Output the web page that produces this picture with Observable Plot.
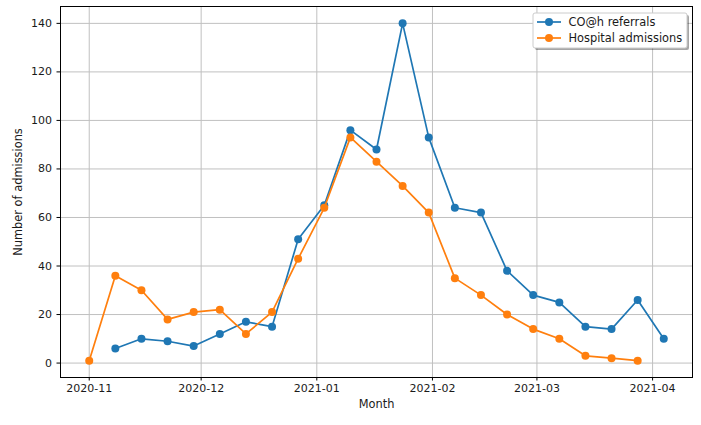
<!DOCTYPE html>
<html>
<head>
<meta charset="utf-8">
<script src="https://cdn.jsdelivr.net/npm/d3@7"></script>
<script src="https://cdn.jsdelivr.net/npm/@observablehq/plot@0.6"></script>
<style>
  html, body { margin: 0; padding: 0; background: white; }
  #chart { width: 701px; height: 425px; }
</style>
</head>
<body>
<div id="chart"></div>
<script>
const seriesNames = ["CO@h referrals", "Hospital admissions"];
const seriesColors = ["#1f77b4", "#ff7f0e"];

const referralDates = ["2020-11-08","2020-11-15","2020-11-22","2020-11-29","2020-12-06","2020-12-13","2020-12-20","2020-12-27",
  "2021-01-03","2021-01-10","2021-01-17","2021-01-24","2021-01-31","2021-02-07","2021-02-14","2021-02-21","2021-02-28",
  "2021-03-07","2021-03-14","2021-03-21","2021-03-28","2021-04-04"];
const referrals = [6,10,9,7,12,17,15,51,65,96,88,140,93,64,62,38,28,25,15,14,26,10];

const admissionDates = ["2020-11-01","2020-11-08","2020-11-15","2020-11-22","2020-11-29","2020-12-06","2020-12-13","2020-12-20","2020-12-27",
  "2021-01-03","2021-01-10","2021-01-17","2021-01-24","2021-01-31","2021-02-07","2021-02-14","2021-02-21","2021-02-28",
  "2021-03-07","2021-03-14","2021-03-21","2021-03-28"];
const admissions = [1,36,30,18,21,22,12,21,43,64,93,83,73,62,35,28,20,14,10,3,2,1];

const monthTicks = ["2020-11-01","2020-12-01","2021-01-01","2021-02-01","2021-03-01","2021-04-01"];
const yTicks = [0,20,40,60,80,100,120,140];

const xLabel = "Month";
const yLabel = "Number of admissions";

const refData = referralDates.map((d, i) => ({date: new Date(d), value: referrals[i]}));
const admData = admissionDates.map((d, i) => ({date: new Date(d), value: admissions[i]}));
const monthDates = monthTicks.map(d => new Date(d));

// matplotlib-style 5% margins
const allDates = refData.concat(admData).map(d => +d.date);
const allVals = referrals.concat(admissions);
const tMin = d3.min(allDates), tMax = d3.max(allDates);
const tPad = (tMax - tMin) * 0.05;
const vMin = d3.min(allVals), vMax = d3.max(allVals);
const vPad = (vMax - vMin) * 0.05;

const textColor = "#1a1a1a";
const gridColor = "#c0c0c0";

const chart = Plot.plot({
  width: 701,
  height: 425,
  marginLeft: 60,
  marginRight: 9,
  marginTop: 6,
  marginBottom: 48,
  style: {fontFamily: "DejaVu Sans", fontSize: "11px", color: textColor, background: "white"},
  x: {type: "utc", domain: [new Date(tMin - tPad), new Date(tMax + tPad)]},
  y: {domain: [vMin - vPad, vMax + vPad]},
  marks: [
    Plot.gridX(monthDates, {stroke: gridColor, strokeOpacity: 1, strokeWidth: 1}),
    Plot.gridY(yTicks, {stroke: gridColor, strokeOpacity: 1, strokeWidth: 1}),
    Plot.axisX(monthDates, {tickFormat: d3.utcFormat("%Y-%m"), tickSize: 3.5, tickPadding: 3.5, label: null, stroke: "#000", fontSize: 11}),
    Plot.axisY(yTicks, {tickSize: 3.5, tickPadding: 5, label: null, stroke: "#000", fontSize: 11}),
    Plot.line(refData, {x: "date", y: "value", stroke: seriesColors[0], strokeWidth: 1.7}),
    Plot.dot(refData, {x: "date", y: "value", r: 4, fill: seriesColors[0]}),
    Plot.line(admData, {x: "date", y: "value", stroke: seriesColors[1], strokeWidth: 1.7}),
    Plot.dot(admData, {x: "date", y: "value", r: 4, fill: seriesColors[1]}),
    Plot.frame({stroke: "#000", strokeWidth: 1}),
    Plot.text([xLabel], {frameAnchor: "bottom", dy: 27, lineAnchor: "middle", textAnchor: "middle", fill: textColor, fontSize: 11.4}),
    Plot.text([yLabel], {frameAnchor: "left", dx: -42, rotate: -90, lineAnchor: "middle", textAnchor: "middle", fill: textColor, fontSize: 11.4})
  ]
});

document.getElementById("chart").appendChild(chart);

// In-plot legend (upper right), matplotlib style
const svg = d3.select(chart);
const lg = svg.append("g").attr("font-family", "DejaVu Sans").attr("font-size", "11.4px").attr("text-anchor", "start");
const lx = 533, ly = 13, lw = 154, lh = 35;
lg.append("rect").attr("x", lx + 2).attr("y", ly + 2).attr("width", lw).attr("height", lh)
  .attr("rx", 2).attr("fill", "#000").attr("fill-opacity", 0.35);
lg.append("rect").attr("x", lx).attr("y", ly).attr("width", lw).attr("height", lh)
  .attr("rx", 2).attr("fill", "white").attr("stroke", "#cccccc").attr("stroke-width", 1);
seriesNames.forEach((name, i) => {
  const cy = ly + 9 + i * 16;
  lg.append("line").attr("x1", lx + 4).attr("x2", lx + 28).attr("y1", cy).attr("y2", cy)
    .attr("stroke", seriesColors[i]).attr("stroke-width", 1.7);
  lg.append("circle").attr("cx", lx + 16).attr("cy", cy).attr("r", 4).attr("fill", seriesColors[i]);
  lg.append("text").attr("x", lx + 35.5).attr("y", cy).attr("dy", "0.35em")
    .attr("text-anchor", "start").attr("fill", textColor).text(name);
});
</script>
</body>
</html>
